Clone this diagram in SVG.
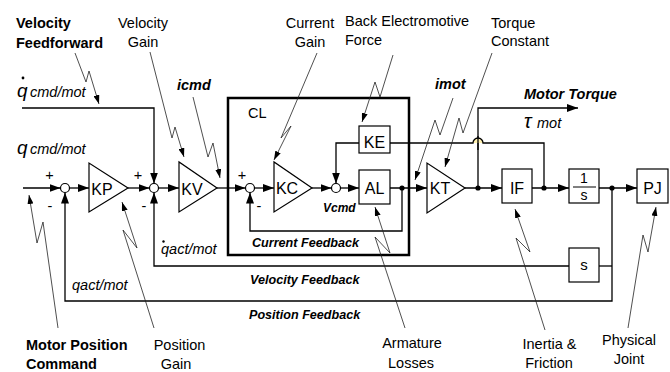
<svg xmlns="http://www.w3.org/2000/svg" width="670" height="372" viewBox="0 0 670 372">
<defs>
<style>
.ln{fill:none;stroke:#000;stroke-width:1.3}
.ld{fill:none;stroke:#222;stroke-width:0.8}
.bx{fill:#fff;stroke:#000;stroke-width:1.2}
.sm{fill:#fff;stroke:#000;stroke-width:1.2}
.dot{fill:#000}
.t{font-family:"Liberation Sans",Arial,sans-serif;font-size:14.5px;fill:#000}
.k{font-size:16px;text-anchor:middle}
.b{font-weight:bold}
.i{font-style:italic}
.m{text-anchor:middle}
.fb{font-size:12.6px;font-weight:bold;font-style:italic}
</style>
<marker id="ar" viewBox="0 0 11 8" refX="11" refY="4" markerWidth="11" markerHeight="8" markerUnits="userSpaceOnUse" orient="auto"><path d="M0,0 L11,4 L0,8 z" fill="#000"/></marker>
<marker id="la" viewBox="0 0 9 6" refX="9" refY="3" markerWidth="9" markerHeight="6" markerUnits="userSpaceOnUse" orient="auto"><path d="M0,0 L9,3 L0,6 z" fill="#000"/></marker>
</defs>
<rect width="670" height="372" fill="#fff"/>

<g id="CL">
<rect x="228" y="98" width="181" height="157" fill="none" stroke="#000" stroke-width="2.5"/>
<text class="t" x="248" y="118">CL</text>
</g>

<g id="connectors">
<path class="ln" d="M23,188 H60.5" marker-end="url(#ar)"/>
<path class="ln" d="M69.5,188 H89" marker-end="url(#ar)"/>
<path class="ln" d="M128,188 H149.5" marker-end="url(#ar)"/>
<path class="ln" d="M22,108 H154 V183.5" marker-end="url(#ar)"/>
<path class="ln" d="M158.5,188 H179" marker-end="url(#ar)"/>
<path class="ln" d="M217,188 H245.5" marker-end="url(#ar)"/>
<path class="ln" d="M254.5,188 H274" marker-end="url(#ar)"/>
<path class="ln" d="M312,188 H331.5" marker-end="url(#ar)"/>
<path class="ln" d="M359,143 H336 V183.5" marker-end="url(#ar)"/>
<path class="ln" d="M340.5,188 H359" marker-end="url(#ar)"/>
<path class="ln" d="M390,188 H427" marker-end="url(#ar)"/>
<path class="ln" d="M402,188 V231 H250 V192.5" marker-end="url(#ar)"/>
<path class="ln" d="M465,188 H502" marker-end="url(#ar)"/>
<path class="ln" d="M478,188 V108 H578" marker-end="url(#ar)"/>
<path d="M473,143 A5,5 0 0 1 483,143 Z" fill="#fff1b0" stroke="none"/>
<path class="ln" d="M544,188 V143 H483 A5,5 0 0 0 473,143 H390"/>
<path class="ln" d="M478,150 V136"/>
<path class="ln" d="M532,188 H569" marker-end="url(#ar)"/>
<path class="ln" d="M599,188 H637" marker-end="url(#ar)"/>
<path class="ln" d="M612,188 V301 H65 V192.5" marker-end="url(#ar)"/>
<path class="ln" d="M612,266 H599"/>
<path class="ln" d="M569,266 H154 V192.5" marker-end="url(#ar)"/>
<circle class="dot" cx="402" cy="188" r="2.6"/>
<circle class="dot" cx="478" cy="188" r="2.6"/>
<circle class="dot" cx="544" cy="188" r="2.6"/>
<circle class="dot" cx="612" cy="188" r="2.6"/>
</g>

<g id="sum1"><circle class="sm" cx="65" cy="188" r="4.5"/>
<text class="t m" x="49.5" y="180">+</text><text class="t m" x="50" y="211">-</text></g>
<g id="sum2"><circle class="sm" cx="154" cy="188" r="4.5"/>
<text class="t m" x="138" y="180">+</text><text class="t m" x="144" y="211">-</text></g>
<g id="sum3"><circle class="sm" cx="250" cy="188" r="4.5"/>
<text class="t m" x="242" y="180">+</text><text class="t m" x="259" y="211">-</text></g>
<g id="sum4"><circle class="sm" cx="336" cy="188" r="4.5"/></g>

<g id="KP"><path class="bx" d="M89,163 L89,212 L128,188 Z"/><text class="t k" x="102" y="195">KP</text></g>
<g id="KV"><path class="bx" d="M179,162 L179,212 L217,188 Z"/><text class="t k" x="192" y="195">KV</text></g>
<g id="KC"><path class="bx" d="M274,162 L274,212 L312,188 Z"/><text class="t k" x="287" y="194">KC</text></g>
<g id="KE"><rect class="bx" x="359" y="126" width="31" height="27"/><text class="t k" x="374.5" y="148">KE</text></g>
<g id="AL"><rect class="bx" x="359" y="170" width="31" height="34"/><text class="t k" x="374.5" y="194">AL</text></g>
<g id="KT"><path class="bx" d="M427,163 L427,213 L465,188 Z"/><text class="t k" x="440" y="194">KT</text></g>
<g id="IF"><rect class="bx" x="502" y="169" width="30" height="34"/><text class="t k" x="517" y="194">IF</text></g>
<g id="INT"><rect class="bx" x="569" y="169" width="30" height="34"/>
<text class="t m" x="584" y="183" style="font-size:14px">1</text>
<line x1="573" y1="187" x2="596" y2="187" stroke="#000" stroke-width="1"/>
<text class="t m" x="584" y="200" style="font-size:14px">s</text></g>
<g id="PJ"><rect class="bx" x="637" y="169" width="31" height="34"/><text class="t k" x="652.5" y="194">PJ</text></g>
<g id="S"><rect class="bx" x="569" y="248" width="30" height="34"/><text class="t m" x="584" y="270" style="font-size:15px">s</text></g>

<g id="signals">
<circle cx="23" cy="78" r="1.4" fill="#000"/>
<text class="t i" x="17" y="97" style="font-size:19px">q</text>
<text class="t i" x="30" y="97" style="font-size:14.5px">cmd/mot</text>
<text class="t i" x="17" y="154" style="font-size:19px">q</text>
<text class="t i" x="30" y="154" style="font-size:14.5px">cmd/mot</text>
<text class="t b i" x="177" y="90">icmd</text>
<text class="t b i" x="435" y="89">imot</text>
<text class="t b i" x="524" y="99">Motor Torque</text>
<text class="t i" x="524" y="128" style="font-size:20px">τ</text>
<text class="t i" x="537" y="128">mot</text>
<text class="t b i" x="323" y="212" style="font-size:12px">Vcmd</text>
<circle cx="163.5" cy="241.5" r="1.2" fill="#000"/>
<text class="t i" x="161" y="254">qact/mot</text>
<text class="t i" x="72" y="290">qact/mot</text>
<text class="t fb" x="252" y="247">Current Feedback</text>
<text class="t fb" x="250" y="284">Velocity Feedback</text>
<text class="t fb" x="249" y="319">Position Feedback</text>
</g>

<g id="labels">
<text class="t b" x="16" y="28">Velocity</text>
<text class="t b" x="16" y="48">Feedforward</text>
<text class="t m" x="143" y="28">Velocity</text>
<text class="t m" x="143" y="47">Gain</text>
<text class="t m" x="310" y="28">Current</text>
<text class="t m" x="310" y="47">Gain</text>
<text class="t" x="345" y="26">Back Electromotive</text>
<text class="t" x="345" y="45">Force</text>
<text class="t" x="491" y="28">Torque</text>
<text class="t" x="491" y="46">Constant</text>
<text class="t b" x="26" y="350">Motor Position</text>
<text class="t b" x="26" y="369">Command</text>
<text class="t m" x="179.5" y="350">Position</text>
<text class="t m" x="176" y="369">Gain</text>
<text class="t m" x="412" y="348">Armature</text>
<text class="t m" x="411" y="368">Losses</text>
<text class="t m" x="549.5" y="349">Inertia &amp;</text>
<text class="t m" x="549" y="368">Friction</text>
<text class="t m" x="629" y="345">Physical</text>
<text class="t m" x="629" y="364">Joint</text>
</g>

<g id="leaders">
<polyline class="ld" points="75,53 86,82 89,71 99,104" marker-end="url(#la)"/>
<polyline class="ld" points="150,52 172,138 175,127 184,157" marker-end="url(#la)"/>
<polyline class="ld" points="193,97 208,157 213,143 220,178" marker-end="url(#la)"/>
<polyline class="ld" points="317,53 281,138 291,126 274,160" marker-end="url(#la)"/>
<polyline class="ld" points="393,55 380,97 375,82 362,122" marker-end="url(#la)"/>
<polyline class="ld" points="453,98 440,135 435,120 415,180" marker-end="url(#la)"/>
<polyline class="ld" points="492,53 463,133 459,118 445,167" marker-end="url(#la)"/>
<polyline class="ld" points="58,328 43,222 37,243 29,195" marker-end="url(#la)"/>
<polyline class="ld" points="154,328 123,230 137,248 122,202" marker-end="url(#la)"/>
<polyline class="ld" points="405,328 375,237 390,253 375,207" marker-end="url(#la)"/>
<polyline class="ld" points="545,330 516,238 530,252 515,209" marker-end="url(#la)"/>
<polyline class="ld" points="628,328 643,235 648,252 656,207" marker-end="url(#la)"/>
</g>
</svg>
